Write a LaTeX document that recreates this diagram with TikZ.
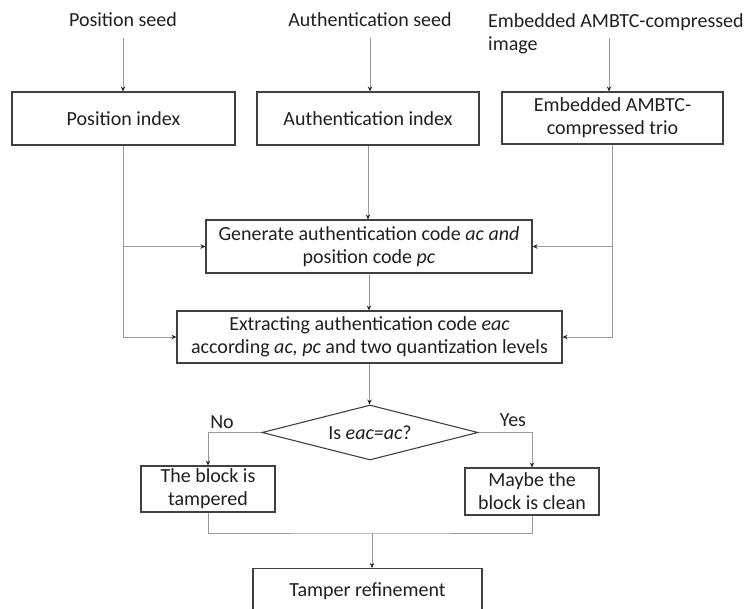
\documentclass[tikz,border=0pt]{standalone}
\usepackage{fontspec}
\setmainfont{Carlito}
\usetikzlibrary{arrows.meta,positioning,shapes.geometric}

\begin{document}
\begin{tikzpicture}
	[x=1pt, y=-1pt, font=\fontsize{20}{23}\selectfont, inner sep=0pt,
	box/.style	= {rectangle, draw=black!75, line width=1.1pt, align=center, text=black!88, minimum height=53pt},
	decision/.style	= {diamond, draw=black!75, line width=1.1pt, text=black!88, minimum width=216pt, minimum height=55pt, aspect=3.9},
	source/.style	= {align=left, text=black!88},
	paths/.style	= {->, >={Stealth[length=5pt, width=4.5pt, black!85]}, draw=black!40, line width=0.9pt},
	links/.style	= {draw=black!40, line width=0.9pt}]

	\clip (0, 0) rectangle (752, 608);

	\node at (123, 20)	[source]	(pseed)	{Position seed};
	\node at (370, 20)	[source]	(aseed)	{Authentication seed};
	\node at (488, 34)	[source, anchor=west]	(iseed)	{Embedded AMBTC-compressed\\image};
	\coordinate (iout) at (609, 38);

	\node at (123.5, 118.5)	[box, minimum width=223pt]	(pidx)	{Position index};
	\node at (368, 118.5)	[box, minimum width=222pt]	(aidx)	{Authentication index};
	\node at (612.5, 118)	[box, minimum width=221pt, minimum height=52pt]	(trio)	{Embedded AMBTC-\\compressed trio};

	\node at (369, 246.5)	[box, minimum width=326pt]	(gen)	{Generate authentication code \textit{ac and}\\position code \textit{pc}};
	\node at (369.5, 337)	[box, minimum width=385pt, minimum height=52pt]	(ext)	{Extracting authentication code \textit{eac}\\according \textit{ac, pc} and two quantization levels};

	\node at (370, 432.5)	[decision]	(dec)	{Is \textit{eac=ac}?};
	\node at (222, 422)	[source]	(no)	{No};
	\node at (513, 420)	[source]	(yes)	{Yes};

	\node at (208, 489)	[box, minimum width=134pt, minimum height=46pt]	(tamp)	{The block is\\tampered};
	\node at (532, 491.5)	[box, minimum width=134pt, minimum height=47pt]	(clean)	{Maybe the\\block is clean};
	\node at (367.5, 591.5)	[box, minimum width=229pt, minimum height=46pt]	(refine)	{Tamper refinement};
	\coordinate (join) at (372, 533);

	\draw [paths, shorten <=11pt] (pseed.south) -- (pseed.south |- pidx.north);
	\draw [paths, shorten <=11pt] (aseed.south) -- (aseed.south |- aidx.north);
	\draw [paths] (iout) -- (iout |- trio.north);

	\draw [paths] (pidx.south) |- (ext.west);
	\draw [paths] (pidx.south |- gen.west) -- (gen.west);
	\draw [paths] (aidx.south) -- (aidx.south |- gen.north);
	\draw [paths] (trio.south) |- (ext.east);
	\draw [paths] (trio.south |- gen.east) -- (gen.east);

	\draw [paths] (gen.south) -- (gen.south |- ext.north);
	\draw [paths] (ext.south) -- (ext.south |- dec.north);
	\draw [paths] (dec.west) -| (tamp.north);
	\draw [paths] (dec.east) -| (clean.north);

	\draw [links] (tamp.south) |- (join) -| (clean.south);
	\draw [paths] (join) -- (join |- refine.north);
\end{tikzpicture}
\end{document}
